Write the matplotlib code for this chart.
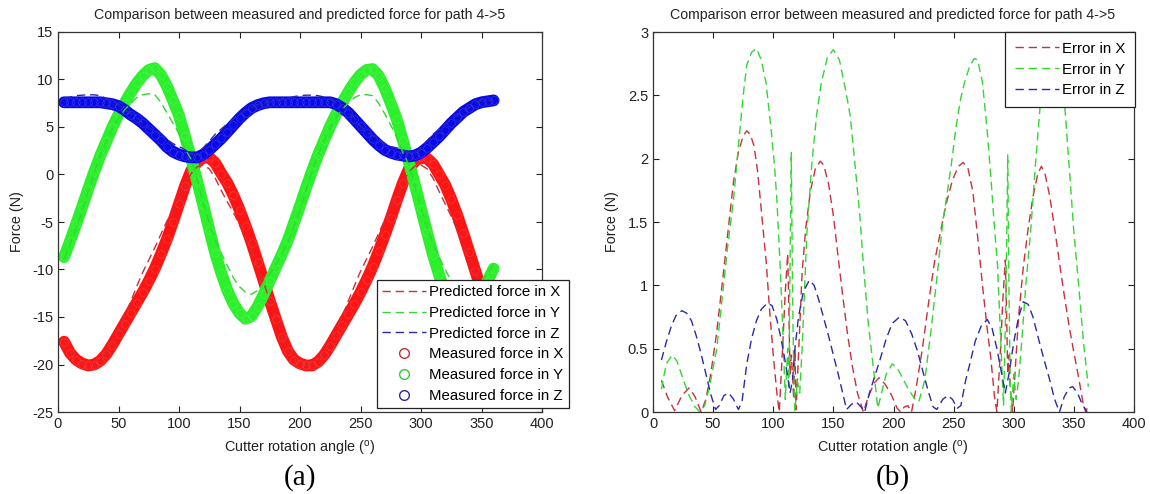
# -*- coding: utf-8 -*-

import numpy as np
import matplotlib.pyplot as plt
from matplotlib.ticker import FuncFormatter

plt.rcParams['font.family'] = ['Liberation Sans', 'DejaVu Sans']

# Cutter rotation angle (deg), left panel samples
angle = np.arange(5, 365, 5)

# Measured forces (N)
meas_x = [-17.6, -18.8, -19.5, -19.9, -20.1, -20.0, -19.6, -18.9, -17.9, -16.8, -15.7, -14.6,
          -13.5, -12.4, -11.2, -9.9, -8.4, -6.8, -5.0, -3.1, -1.2, 0.4, 1.3, 1.8,
          1.8, 1.2, 0.1, -0.9, -2.2, -3.7, -5.4, -7.2, -9.2, -11.2, -13.3, -15.2,
          -17.1, -18.6, -19.5, -19.9, -20.1, -20.1, -19.7, -19.0, -18.0, -16.9, -15.8, -14.7,
          -13.6, -12.4, -11.1, -9.7, -8.1, -6.4, -4.6, -2.7, -0.9, 0.6, 1.4, 1.8,
          1.7, 1.1, 0.0, -1.1, -2.6, -4.3, -6.2, -8.2, -10.2, -12.2, -14.1, -15.9]
meas_y = [-8.7, -7.0, -5.2, -3.4, -1.5, 0.3, 2.0, 3.5, 5.0, 6.3, 7.5, 8.6,
          9.6, 10.4, 11.0, 11.2, 10.5, 9.3, 7.8, 6.2, 4.0, 1.7, -0.7, -3.2,
          -5.8, -8.3, -10.4, -12.2, -13.6, -14.6, -15.2, -14.9, -13.9, -12.6, -11.2, -9.8,
          -8.4, -6.9, -5.1, -3.3, -1.4, 0.4, 2.1, 3.6, 5.1, 6.4, 7.6, 8.7,
          9.7, 10.5, 11.0, 11.1, 10.4, 9.1, 7.5, 5.8, 3.6, 1.3, -1.1, -3.6,
          -6.1, -8.5, -10.6, -12.4, -13.8, -14.8, -15.2, -14.8, -13.8, -12.5, -11.2, -9.9]
meas_z = [7.6, 7.6, 7.6, 7.6, 7.6, 7.6, 7.6, 7.5, 7.4, 7.2, 6.8, 6.3,
          5.9, 5.4, 4.8, 4.2, 3.6, 2.9, 2.4, 2.1, 1.9, 1.8, 1.8, 2.1,
          2.6, 3.2, 3.8, 4.5, 5.2, 5.9, 6.5, 7.0, 7.3, 7.5, 7.6, 7.6,
          7.6, 7.6, 7.6, 7.6, 7.6, 7.6, 7.6, 7.6, 7.6, 7.4, 7.0, 6.5,
          5.8, 5.1, 4.4, 3.7, 3.1, 2.6, 2.3, 2.1, 2.0, 1.9, 2.0, 2.3,
          2.8, 3.4, 4.0, 4.7, 5.4, 6.0, 6.6, 7.0, 7.4, 7.6, 7.7, 7.8]

# Predicted forces (N)
pred_x = [-17.4, -18.7, -19.5, -19.9, -20.0, -19.8, -19.4, -18.7, -17.5, -16.2, -14.9, -13.4,
          -11.8, -10.3, -9.0, -7.7, -6.3, -4.9, -3.8, -2.7, -1.2, 0.1, 0.8, 1.0,
          0.6, -0.4, -1.7, -2.9, -4.0, -5.3, -6.7, -8.0, -9.7, -11.4, -13.3, -15.0,
          -16.9, -18.4, -19.4, -19.9, -20.0, -19.9, -19.5, -18.8, -17.6, -16.3, -14.9, -13.3,
          -11.7, -10.2, -8.9, -7.6, -6.2, -4.8, -3.6, -2.4, -0.9, 0.3, 0.9, 1.0,
          0.6, -0.4, -1.8, -3.1, -4.4, -5.8, -7.3, -8.8, -10.4, -12.1, -13.9, -15.7]
pred_y = [-8.9, -7.4, -5.65, -3.8, -1.75, 0.2, 2.05, 3.5, 4.85, 5.9, 6.8, 7.45,
          8.1, 8.4, 8.5, 8.4, 7.6, 6.5, 5.4, 4.3, 2.7, 1.6, -0.5, -3.0,
          -5.1, -6.9, -8.3, -9.6, -10.9, -11.8, -12.4, -12.6, -12.2, -11.4, -10.5, -9.5,
          -8.4, -7.1, -5.5, -3.7, -1.7, 0.3, 2.1, 3.6, 4.9, 6.0, 6.9, 7.5,
          8.1, 8.4, 8.4, 8.3, 7.5, 6.4, 5.2, 3.9, 2.3, 1.0, -1.2, -3.5,
          -5.6, -7.3, -8.7, -10.0, -11.2, -12.0, -12.5, -12.6, -12.1, -11.3, -10.4, -9.5]
pred_z = [8.0, 8.15, 8.3, 8.35, 8.4, 8.38, 8.3, 8.0, 7.75, 7.35, 6.85, 6.42,
          6.0, 5.42, 4.9, 4.6, 4.3, 3.7, 3.25, 2.95, 2.6, 2.15, 2.05, 2.8,
          3.5, 4.25, 4.8, 5.35, 5.85, 6.35, 6.8, 7.1, 7.35, 7.55, 7.65, 7.75,
          7.9, 8.05, 8.2, 8.3, 8.35, 8.35, 8.3, 8.15, 7.9, 7.55, 7.05, 6.6,
          5.9, 5.1, 4.45, 4.1, 3.7, 3.25, 2.95, 2.8, 2.6, 2.25, 2.15, 2.85,
          3.55, 4.25, 4.75, 5.3, 5.8, 6.25, 6.7, 7.05, 7.55, 7.8, 7.85, 7.8]

# Errors (N), right panel
err_x_ang = [7, 12, 18, 24, 30, 35, 40, 44, 48, 53, 58, 63, 67, 71, 75, 78, 81, 84, 87, 90,
             94, 97, 100, 103, 105, 108, 110, 112, 113, 114, 115, 116, 117, 118, 119, 121, 124,
             127, 131, 135, 139, 142, 146, 150, 154, 158, 162, 166, 170, 175, 179, 184, 188, 193,
             198, 203, 206, 209, 212, 215, 219, 224, 229, 234, 239, 244, 249, 254, 258, 262, 266,
             270, 274, 278, 281, 284, 286, 289, 291, 293, 294, 295, 296, 297, 299, 301, 304, 308,
             312, 316, 320, 323, 326, 330, 334, 338, 342, 346, 350, 354, 358, 360, 362]
err_x = [0.25, 0.12, 0.01, 0.13, 0.19, 0.12, 0.0, 0.1, 0.3, 0.63, 1.05, 1.48, 1.82, 2.05, 2.18,
         2.22, 2.19, 2.1, 1.9, 1.6, 1.2, 0.8, 0.45, 0.15, 0.0, 0.55, 0.95, 1.25, 0.8, 0.3, 0.45,
         0.3, 0.1, 0.5, 0.02, 0.45, 1.1, 1.45, 1.75, 1.92, 1.98, 1.95, 1.8, 1.55, 1.22, 0.9, 0.6,
         0.35, 0.15, 0.0, 0.12, 0.23, 0.27, 0.22, 0.14, 0.03, 0.0, 0.04, 0.05, 0.0, 0.2, 0.5,
         0.85, 1.18, 1.42, 1.65, 1.83, 1.94, 1.97, 1.92, 1.74, 1.38, 1.0, 0.65, 0.42, 0.12, 0.0,
         0.5, 0.9, 1.2, 0.8, 0.3, 0.45, 0.2, 0.0, 0.3, 0.75, 1.15, 1.45, 1.7, 1.88, 1.94, 1.88,
         1.7, 1.45, 1.18, 0.92, 0.68, 0.47, 0.27, 0.05, 0.0, 0.06]

err_y_ang = [7, 11, 16, 20, 25, 30, 35, 39, 43, 47, 53, 57, 62, 67, 71, 75, 78, 82, 86, 90,
             94, 98, 101, 103, 106, 108, 110, 112, 113, 114, 115, 116, 117, 118, 120, 122, 124,
             128, 132, 136, 140, 145, 150, 155, 160, 164, 168, 172, 175, 179, 183, 187, 190, 194,
             199, 203, 208, 213, 218, 221, 226, 231, 236, 241, 245, 248, 252, 256, 259, 263, 267,
             270, 274, 278, 281, 284, 286.5, 289, 291.5, 293.5, 295, 296, 297, 298, 300, 302, 304,
             307, 310, 314, 318, 322, 326, 330, 334, 338, 342, 346, 350, 354, 358, 362]
err_y = [0.18, 0.38, 0.45, 0.4, 0.26, 0.13, 0.04, 0.0, 0.05, 0.2, 0.5, 0.85, 1.3, 1.68, 2.1,
         2.5, 2.74, 2.84, 2.87, 2.78, 2.6, 2.25, 1.95, 1.68, 1.1, 0.63, 0.1, 0.5, 0.2, 1.2, 2.05,
         1.0, 0.3, 0.0, 0.25, 0.15, 0.5, 1.42, 1.95, 2.34, 2.6, 2.8, 2.86, 2.78, 2.55, 2.34, 1.95,
         1.55, 1.16, 0.7, 0.37, 0.03, 0.15, 0.3, 0.38, 0.35, 0.26, 0.17, 0.1, 0.08, 0.25, 0.63,
         1.05, 1.5, 1.75, 1.95, 2.25, 2.48, 2.6, 2.72, 2.79, 2.78, 2.6, 2.21, 1.85, 1.45, 1.16,
         0.6, 0.05, 0.9, 2.03, 1.0, 0.25, 0.0, 0.3, 0.1, 0.25, 0.6, 1.0, 1.42, 1.95, 2.42, 2.62,
         2.72, 2.7, 2.58, 2.47, 1.95, 1.42, 1.0, 0.55, 0.2]

err_z_ang = [7, 11, 15, 19, 24, 28, 32, 36, 40, 44, 48, 52, 55, 59, 63, 67, 71, 74, 78, 82,
             86, 90, 95, 99, 103, 106, 109, 112, 114, 116, 118, 121, 125, 130, 134, 138, 142,
             146, 150, 154, 158, 161, 165, 169, 173, 176, 180, 185, 189, 194, 199, 205, 210, 215,
             220, 225, 229, 233, 236, 241, 245, 249, 253, 256, 260, 264, 268, 273, 278, 282, 286,
             290, 293, 296, 300, 304, 308, 312, 316, 320, 325, 330, 334, 338, 342, 346, 349, 353,
             357, 361]
err_z = [0.41, 0.55, 0.67, 0.76, 0.8, 0.78, 0.72, 0.6, 0.46, 0.3, 0.14, 0.02, 0.05, 0.13,
         0.15, 0.1, 0.02, 0.08, 0.38, 0.58, 0.72, 0.81, 0.86, 0.84, 0.73, 0.6, 0.45, 0.28, 0.15,
         0.25, 0.5, 0.75, 0.95, 1.04, 1.0, 0.88, 0.74, 0.6, 0.45, 0.3, 0.14, 0.02, 0.06, 0.08,
         0.04, 0.0, 0.15, 0.3, 0.42, 0.58, 0.7, 0.75, 0.72, 0.62, 0.48, 0.3, 0.16, 0.04, 0.02,
         0.1, 0.13, 0.1, 0.03, 0.05, 0.25, 0.4, 0.56, 0.68, 0.73, 0.66, 0.5, 0.3, 0.15, 0.3,
         0.55, 0.75, 0.87, 0.85, 0.75, 0.6, 0.42, 0.25, 0.1, 0.0, 0.12, 0.19, 0.2, 0.15, 0.06,
         0.0]

band_cols = ['#ff1414', '#2cf02c', '#0a0ae6']
dash_cols = ['#c8303c', '#33d633', '#2a2aa8']
mark_cols = ['#c03030', '#38c838', '#2828a0']
axis = ['X', 'Y', 'Z']
txt = '#222222'

fig = plt.figure(figsize=(11.5, 4.94), dpi=100)
ax1 = fig.add_axes([58 / 1150, 1 - 412 / 494, 484 / 1150, 380 / 494])
ax2 = fig.add_axes([653 / 1150, 1 - 412 / 494, 481 / 1150, 380 / 494])

# left: measured bands + predicted dashed
pred_h, meas_h = [], []
for meas, col, mc, k in zip([meas_x, meas_y, meas_z], band_cols, mark_cols, axis):
    ax1.plot(angle, meas, '-', color=col, lw=8.5, solid_capstyle='round',
             solid_joinstyle='round', zorder=2)
    ax1.plot(angle, meas, 'o', ms=5.5, mfc='none', mec='white', mew=0.4, alpha=0.2, zorder=2)
    h, = ax1.plot([], [], 'o', ms=7, mfc='none', mec=mc, mew=1.0,
                  label='Measured force in ' + k)
    meas_h.append(h)
for pred, col, k in zip([pred_x, pred_y, pred_z], dash_cols, axis):
    h, = ax1.plot(angle, pred, color=col, lw=1.0, dashes=(6, 3.5), zorder=3,
                  label='Predicted force in ' + k)
    pred_h.append(h)

# right: error curves
for ea, ev, col, k in zip([err_x_ang, err_y_ang, err_z_ang], [err_x, err_y, err_z], dash_cols, axis):
    ax2.plot(ea, ev, color=col, lw=1.0, dashes=(6, 3.5), label='Error in ' + k)

fmt = FuncFormatter(lambda v, p: f'{v:g}')
for ax in (ax1, ax2):
    ax.set_xlim(0, 400)
    ax.set_xticks(np.arange(0, 401, 50))
    ax.tick_params(direction='in', top=True, right=True, length=4, width=0.8,
                   labelsize=10.5, colors=txt)
    ax.xaxis.set_major_formatter(fmt)
    ax.yaxis.set_major_formatter(fmt)
    for s in ax.spines.values():
        s.set_linewidth(0.9)
        s.set_color('#333333')

ax1.set_ylim(-25, 15)
ax1.set_yticks(np.arange(-25, 16, 5))
ax2.set_ylim(0, 3)
ax2.set_yticks(np.arange(0, 3.01, 0.5))

leg1 = ax1.legend(handles=pred_h + meas_h, loc='lower right', bbox_to_anchor=(1.056, 0.0105),
                  borderaxespad=0, fontsize=10.8, handlelength=2.9, labelspacing=0.45,
                  handletextpad=0.25, borderpad=0.35, fancybox=False, framealpha=1,
                  edgecolor=txt)
leg1.get_frame().set_linewidth(0.9)
leg1.set_zorder(10)

leg2 = ax2.legend(loc='upper right', bbox_to_anchor=(1.003, 1.0), borderaxespad=0, fontsize=10.8,
                  handlelength=2.9, labelspacing=0.45, handletextpad=0.25, borderpad=0.65,
                  fancybox=False, framealpha=1, edgecolor=txt)
leg2.get_frame().set_linewidth(0.9)

# titles and labels
fig.text(300 / 1150, 1 - 15 / 494, 'Comparison between measured and predicted force for path 4->5',
         ha='center', va='center', fontsize=10.2, color=txt)
fig.text(893 / 1150, 1 - 15 / 494,
         'Comparison error between measured and predicted force for path 4->5',
         ha='center', va='center', fontsize=10.2, color=txt)
for xc in (300, 893):
    fig.text(xc / 1150, 1 - 448 / 494, r'Cutter rotation angle ($^{\mathregular{o}}$)',
             ha='center', va='center', fontsize=10.4, color=txt)
fig.text(17 / 1150, 1 - 222 / 494, 'Force (N)', rotation=90, ha='center', va='center',
         fontsize=10.4, color=txt)
fig.text(612 / 1150, 1 - 222 / 494, 'Force (N)', rotation=90, ha='center', va='center',
         fontsize=10.4, color=txt)
fig.text(300 / 1150, 1 - 478 / 494, '(a)', ha='center', va='center', fontsize=21,
         family='Liberation Serif')
fig.text(893 / 1150, 1 - 478 / 494, '(b)', ha='center', va='center', fontsize=21,
         family='Liberation Serif')

fig.savefig('out.png', dpi=100)
